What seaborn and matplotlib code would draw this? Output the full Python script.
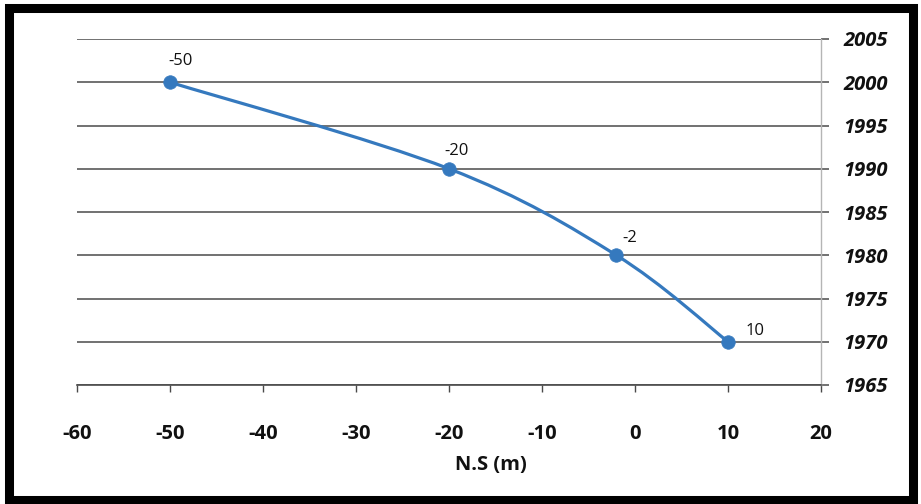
import matplotlib
matplotlib.use('Agg')
import matplotlib.pyplot as plt
from matplotlib.path import Path
from matplotlib.patches import PathPatch, Rectangle
import numpy as np
import pandas as pd
import seaborn as sns

# data
ns_m = [-50, -20, -2, 10]
years = [2000, 1990, 1980, 1970]
point_labels = ['-50', '-20', '-2', '10']
x_ticks = [-60, -50, -40, -30, -20, -10, 0, 10, 20]
y_ticks = [1965, 1970, 1975, 1980, 1985, 1990, 1995, 2000, 2005]
x_title = 'N.S (m)'

# label offsets in pixels (style only)
label_offsets = [(11, 21), (8, 18), (13, 17), (27, 11)]

line_blue = '#3579BE'
grid_col = '#4a4a4a'
text_col = '#111111'

sns.set_theme(style='white')
plt.rcParams['font.family'] = ['Open Sans', 'DejaVu Sans']
plt.rcParams['axes.unicode_minus'] = False

df = pd.DataFrame({'ns': ns_m, 'year': years})

fig = plt.figure(figsize=(9.21, 5.04), dpi=100)
ax = fig.add_axes([77/921, 1 - 385/504, (821 - 77)/921, (385 - 39)/504])

# smoothed line like excel (catmull-rom -> cubic bezier)
pts = df[['ns', 'year']].to_numpy(dtype=float)
padded = np.vstack([pts[0], pts, pts[-1]])
verts = [pts[0]]
codes = [Path.MOVETO]
for i in range(len(pts) - 1):
    p0, p1, p2, p3 = padded[i], padded[i + 1], padded[i + 2], padded[i + 3]
    c1 = p1 + (p2 - p0) / 6
    c2 = p2 - (p3 - p1) / 6
    verts += [c1, c2, p2]
    codes += [Path.CURVE4] * 3
ax.add_patch(PathPatch(Path(verts, codes), facecolor='none', edgecolor=line_blue,
                       lw=2.3, zorder=3, capstyle='round'))

sns.scatterplot(data=df, x='ns', y='year', ax=ax, color=line_blue, s=95,
                edgecolor=line_blue, linewidth=0.5, zorder=4, legend=False)

for x, y, lab, off in zip(ns_m, years, point_labels, label_offsets):
    ax.annotate(lab, (x, y), xytext=off, textcoords='offset pixels',
                ha='center', va='center', fontsize=12, color=text_col)

ax.set_xlim(x_ticks[0], x_ticks[-1])
ax.set_ylim(y_ticks[0], y_ticks[-1])
ax.set_xticks(x_ticks)
ax.set_yticks(y_ticks)
ax.yaxis.tick_right()
ax.set_xlabel('')
ax.set_ylabel('')

ax.grid(axis='y', color=grid_col, lw=1.1)
ax.grid(axis='x', visible=False)
ax.set_axisbelow(True)

for s in ['top', 'left']:
    ax.spines[s].set_visible(False)
ax.spines['bottom'].set_color(grid_col)
ax.spines['bottom'].set_linewidth(1.2)
ax.spines['right'].set_color('#b5b5b5')
ax.spines['right'].set_linewidth(1.0)

ax.tick_params(axis='x', direction='out', length=5, width=1, color=grid_col,
               pad=23, labelsize=14.5, bottom=True)
ax.tick_params(axis='y', direction='out', length=6, width=1.1, color=grid_col,
               pad=10, labelsize=14.5, right=True, left=False)
for tk in ax.xaxis.get_major_ticks():
    for t in (tk.label1, tk.label2):
        t.set_fontweight('bold')
        t.set_color(text_col)
for tk in ax.yaxis.get_major_ticks():
    for t in (tk.label1, tk.label2):
        t.set_fontweight('bold')
        t.set_fontstyle('italic')
        t.set_color(text_col)

fig.text(491/921, 1 - 465/504, x_title, ha='center', va='center',
         fontsize=14.5, fontweight='bold', color=text_col)

# black frame round the scanned chart
fig.patches.append(Rectangle((9/921, 1 - 500/504), 904/921, 492/504,
                             transform=fig.transFigure, fill=False,
                             edgecolor='black', lw=6.5, zorder=10))

fig.savefig('out.png', dpi=100, facecolor='white')
